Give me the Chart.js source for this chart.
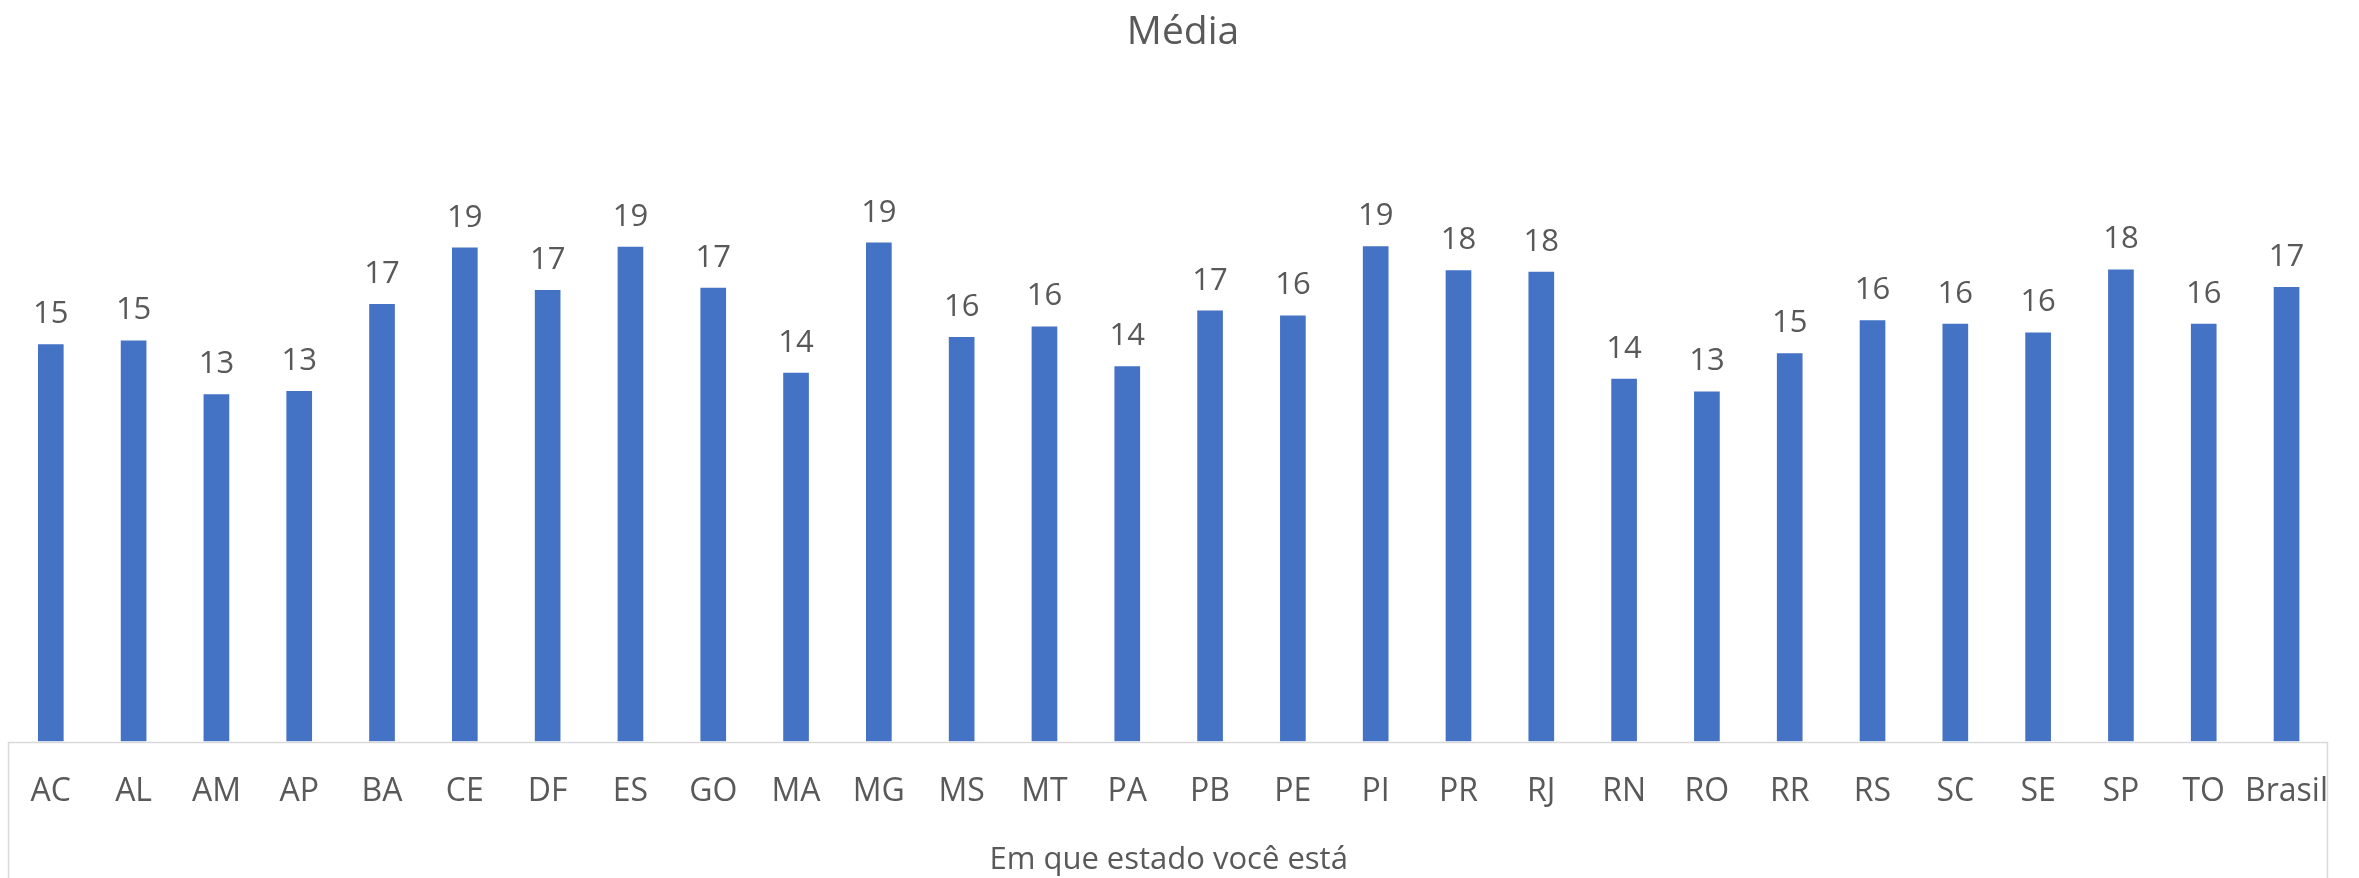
<!DOCTYPE html>
<html>
<head>
<meta charset="utf-8">
<script src="https://cdn.jsdelivr.net/npm/chart.js@4/dist/chart.umd.min.js"></script>
<style>
  html, body { margin: 0; padding: 0; background: #ffffff; }
  #wrap { width: 2359px; height: 878px; }
</style>
</head>
<body>
<div id="wrap"><canvas id="c" width="2359" height="878"></canvas></div>
<script>
const chartTitle = "Média";
const axisTitle = "Em que estado você está";
const categories = ["AC","AL","AM","AP","BA","CE","DF","ES","GO","MA","MG","MS","MT","PA","PB","PE","PI","PR","RJ","RN","RO","RR","RS","SC","SE","SP","TO","Brasil"];
const media = [15.26,15.41,13.34,13.47,16.81,18.98,17.35,19.01,17.43,14.17,19.17,15.54,15.95,14.42,16.56,16.37,19.03,18.11,18.05,13.94,13.45,14.92,16.19,16.05,15.72,18.14,16.05,17.46];
const yMin = 0;
const yMax = 25;

const FONT = '"Open Sans", "Noto Sans", sans-serif';
const TEXT = '#595959';
const BAR = '#4472C4';
const BOX = '#D9D9D9';

const valueLabels = {
  id: 'valueLabels',
  afterDatasetsDraw(chart) {
    const ctx = chart.ctx;
    const meta = chart.getDatasetMeta(0);
    ctx.save();
    ctx.font = '31px ' + FONT;
    ctx.fillStyle = TEXT;
    ctx.textAlign = 'center';
    ctx.textBaseline = 'alphabetic';
    meta.data.forEach((bar, i) => {
      ctx.fillText(String(Math.round(media[i])), bar.x, bar.y - 21);
    });
    ctx.restore();
  }
};

const axisBox = {
  id: 'axisBox',
  afterDraw(chart) {
    const ctx = chart.ctx;
    const a = chart.chartArea;
    const top = Math.round(a.bottom) + 0.5;
    const left = Math.round(a.left) - 0.5;
    const right = Math.round(a.right) - 0.5;
    ctx.save();
    ctx.strokeStyle = BOX;
    ctx.lineWidth = 1.5;
    ctx.beginPath();
    ctx.moveTo(left, chart.height);
    ctx.lineTo(left, top);
    ctx.lineTo(right, top);
    ctx.lineTo(right, chart.height);
    ctx.stroke();
    ctx.restore();
  }
};

function draw() {
  new Chart(document.getElementById('c'), {
    type: 'bar',
    data: {
      labels: categories,
      datasets: [{
        label: chartTitle,
        data: media,
        backgroundColor: BAR,
        borderWidth: 0,
        categoryPercentage: 1,
        barPercentage: 0.31
      }]
    },
    options: {
      responsive: false,
      animation: false,
      devicePixelRatio: 1,
      layout: { padding: { left: 8, right: 1, top: 0, bottom: 0 } },
      plugins: {
        legend: { display: false },
        tooltip: { enabled: false },
        title: {
          display: true,
          text: chartTitle,
          color: TEXT,
          font: { family: FONT, size: 39, weight: 'normal', lineHeight: 1.2 },
          padding: { top: 9, bottom: 35 }
        }
      },
      scales: {
        x: {
          grid: { display: false, drawTicks: false },
          border: { display: false },
          ticks: {
            color: TEXT,
            font: { family: FONT, size: 32 },
            padding: 31,
            maxRotation: 0,
            autoSkip: false
          },
          title: {
            display: true,
            text: axisTitle,
            color: TEXT,
            font: { family: FONT, size: 31, lineHeight: 1 },
            padding: { top: 3, bottom: 2 }
          }
        },
        y: {
          display: false,
          min: yMin,
          max: yMax
        }
      }
    },
    plugins: [valueLabels, axisBox]
  });
}

if (document.fonts && document.fonts.load) {
  Promise.all([
    document.fonts.load('31px "Open Sans"'),
    document.fonts.load('39px "Open Sans"')
  ]).then(draw, draw);
} else {
  draw();
}
</script>
</body>
</html>
